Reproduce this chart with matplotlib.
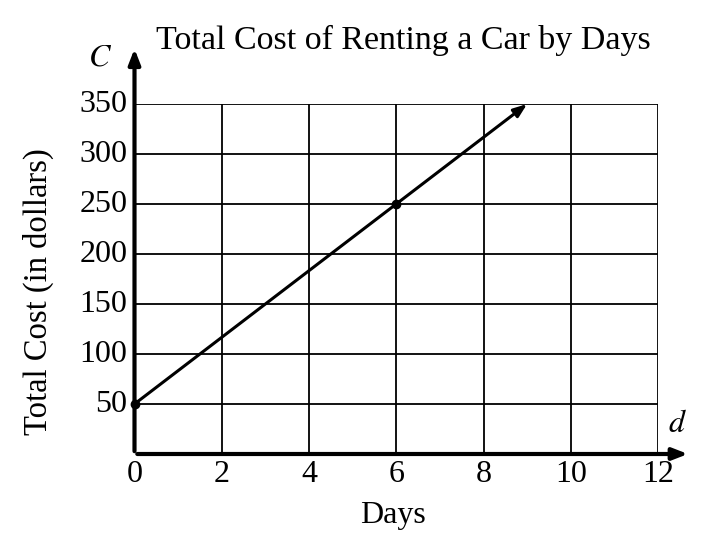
import matplotlib.pyplot as plt

# data
days = [0, 6]
cost = [50, 250]
line_end = (9, 350)
x_ticks = [0, 2, 4, 6, 8, 10, 12]
y_ticks = [50, 100, 150, 200, 250, 300, 350]

plt.rcParams['font.family'] = ['Liberation Serif', 'DejaVu Serif']
plt.rcParams['mathtext.fontset'] = 'stix'

W, H = 714, 543
fig = plt.figure(figsize=(W / 100, H / 100), dpi=100)
ax = fig.add_axes([134.5 / W, 89 / H, (658 - 134.5) / W, 350 / H])
ax.set_xlim(0, 12)
ax.set_ylim(0, 350)
for s in ax.spines.values():
    s.set_visible(False)
ax.set_xticks([])
ax.set_yticks([])

# grid
ax.vlines(x_ticks[1:], 0, 350, color='black', lw=1.3)
ax.hlines(y_ticks, 0, 12, color='black', lw=1.3)

# axes with arrows
ax.annotate('', xy=(12.75, 0), xytext=(0, 0), annotation_clip=False,
            arrowprops=dict(arrowstyle='-|>,head_length=0.9,head_width=0.35', color='black', lw=3))
ax.annotate('', xy=(0, 408), xytext=(0, 0), annotation_clip=False,
            arrowprops=dict(arrowstyle='-|>,head_length=0.9,head_width=0.35', color='black', lw=3))

# cost line
ax.annotate('', xy=line_end, xytext=(days[0], cost[0]), annotation_clip=False,
            arrowprops=dict(arrowstyle='-|>,head_length=0.8,head_width=0.3', color='black', lw=2.2,
                            shrinkA=0, shrinkB=0))
ax.plot(days, cost, 'o', color='black', ms=6, clip_on=False)

for x in x_ticks:
    ax.text(x, -21, str(x), ha='center', va='center', fontsize=23)
for y in y_ticks:
    ax.text(-0.16, y, str(y), ha='right', va='center', fontsize=23)

ax.text(-0.8, 396, '$C$', ha='center', va='center', fontsize=23)
ax.text(12.45, 30, '$d$', ha='center', va='center', fontsize=23)

fig.text(403 / W, 1 - 40 / H, 'Total Cost of Renting a Car by Days', ha='center', va='center', fontsize=24.5)
fig.text(393 / W, 1 - 515 / H, 'Days', ha='center', va='center', fontsize=23)
fig.text(38 / W, 1 - 292 / H, 'Total Cost (in dollars)', ha='center', va='center', rotation=90, fontsize=23.5)

fig.savefig('out.png', dpi=100, facecolor='white')
